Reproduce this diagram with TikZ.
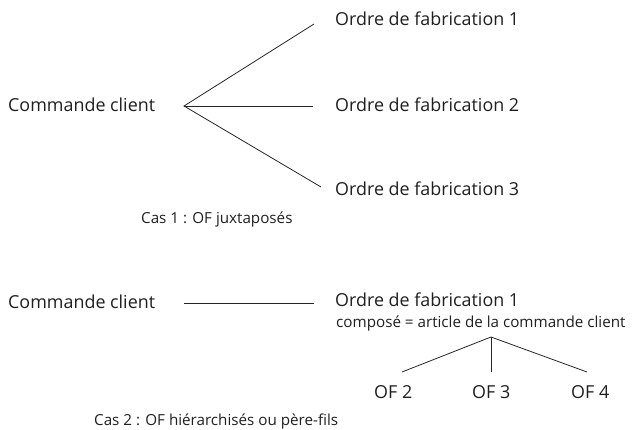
\documentclass[tikz,border=0pt]{standalone}
\usepackage{fontspec}
\setmainfont{Open Sans}
\begin{document}
\begin{tikzpicture}[x=1pt,y=-1pt,
  big/.style={anchor=base west,inner sep=0pt,font=\fontsize{17.9}{20}\selectfont,text=black!88},
  small/.style={anchor=base west,inner sep=0pt,font=\fontsize{15.2}{18}\selectfont,text=black!88},
  link/.style={line width=0.8pt,black!85}]
\useasboundingbox (0,0) rectangle (632,430);

% Cas 1 : ordres de fabrication juxtaposés
\node[big] (cc1) at (8,112) {Commande client};
\node[big] (of11) at (335,26) {Ordre de fabrication 1};
\node[big] (of12) at (335,112) {Ordre de fabrication 2};
\node[big] (of13) at (335,196) {Ordre de fabrication 3};
\node[small] (cas1) at (141,224) {Cas 1 : OF juxtaposés};

\coordinate (fan) at (184,106);
\coordinate (e1) at (314,24);
\coordinate (e2) at (313,106);
\coordinate (e3) at (321,187);
\draw[link] (e1) -- (fan) -- (e3);
\draw[link] (fan) -- (e2);

% Cas 2 : ordres de fabrication hiérarchisés
\node[big] (cc2) at (8,309) {Commande client};
\node[big] (of21) at (335,307) {Ordre de fabrication 1};
\node[small] (comp) at (336,327) {composé = article de la commande client};
\node[big] (of2) at (374,399) {OF 2};
\node[big] (of3) at (472,399) {OF 3};
\node[big] (of4) at (571,399) {OF 4};
\node[small] (cas2) at (94,425) {Cas 2 : OF hiérarchisés ou père-fils};

\coordinate (l1) at (184,303);
\coordinate (l2) at (314,303);
\draw[link] (l1) -- (l2);

\coordinate (apex) at (491,337);
\coordinate (t2) at (402,372);
\coordinate (t3) at (491,372);
\coordinate (t4) at (587,372);
\draw[link] (t2) -- (apex) -- (t4);
\draw[link] (apex) -- (t3);
\end{tikzpicture}
\end{document}
